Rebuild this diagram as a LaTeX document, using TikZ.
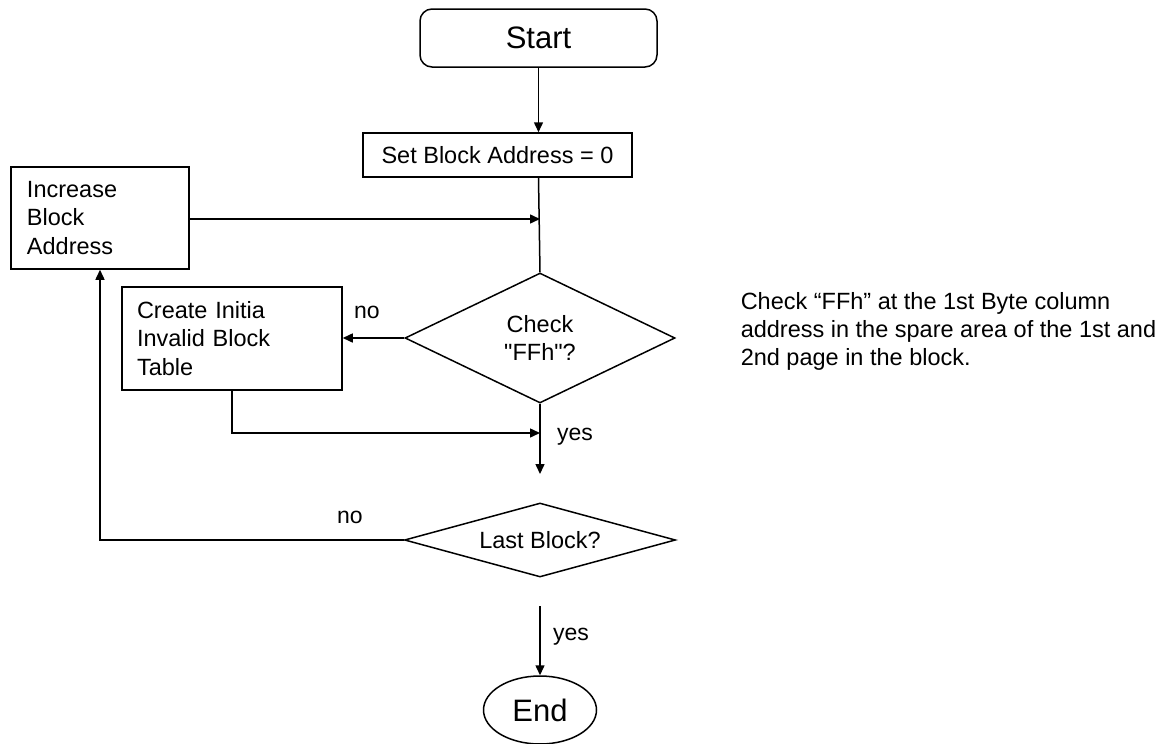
\documentclass[tikz,border=0pt]{standalone}
\usepackage{fontspec}
\setmainfont{Liberation Sans}
\newfontfamily\plainsans{Liberation Sans}
\usepackage{tikz}
\usetikzlibrary{shapes.geometric, arrows.meta}

\begin{document}
\begin{tikzpicture}[
    x=1pt, y=-1pt,
    line width=1.5pt,
    >={Triangle[length=10pt,width=9pt]},
    box/.style = {draw, rectangle, inner sep=0pt, font=\fontsize{23.5}{28.5}\selectfont},
    decision/.style = {draw, diamond, inner sep=0pt, font=\fontsize{23.5}{28.5}\selectfont, align=center},
    terminal/.style = {draw, inner sep=0pt, font=\fontsize{31}{34}\selectfont},
    lbl/.style = {font=\fontsize{23}{26}\selectfont}
  ]
    \useasboundingbox (0,0) rectangle (1171,744);
    \node[terminal, rounded corners=12pt, minimum width=237pt, minimum height=58pt] (start) at (538.5,38) {Start};
    \node[box, minimum width=269pt, minimum height=44pt] (setaddr) at (497.5,155) {Set Block Address = 0};
    \node[box, minimum width=178pt, minimum height=102pt, align=left, text width=146pt] (incr) at (100,218) {Increase\\Block\\Address};
    \node[decision, aspect=2.05, minimum width=270pt, minimum height=130pt] (check) at (540,338) {Check\\{\plainsans"FFh"}?};
    \node[box, minimum width=220pt, minimum height=103pt, align=left, text width=190pt] (create) at (232,338.5) {Create Initia\\Invalid Block\\Table};
    \node[decision, aspect=3.65, minimum width=271pt, minimum height=74pt] (last) at (540,540) {Last Block?};
    \node[terminal, ellipse, minimum width=113pt, minimum height=68pt] (end) at (540,710) {End};
    % free ends of the connectors
    \coordinate (join1) at (540,219);
    \coordinate (join2) at (540,433);
    \coordinate (gap1) at (540,474);
    \coordinate (gap2) at (540,606);
    % labels
    \node[lbl] (no1) at (367,312) {no};
    \node[lbl] (yes1) at (575,437) {yes};
    \node[lbl] (no2) at (350,517) {no};
    \node[lbl] (yes2) at (571,637) {yes};
    \node[font=\fontsize{23.5}{28}\selectfont, align=left, anchor=west, inner sep=0pt] (note) at (740,331)
        {Check “FFh” at the 1st Byte column\\address in the spare area of the 1st and\\2nd page in the block.};
    % connectors
    \draw[->] (start.south -| start) -- (start |- setaddr.north);
    \draw (start |- setaddr.south) -- (check.north);
    \draw[->] (incr.east |- join1) -- (join1);
    \draw[->] (check.west) -- (create.east |- check.west);
    \draw[->] (create.south) |- (join2);
    \draw[->] (check.south) -- (gap1);
    \draw[->] (last.west) -| (incr.south);
    \draw[->] (gap2) -- (end.north);
\end{tikzpicture}
\end{document}
